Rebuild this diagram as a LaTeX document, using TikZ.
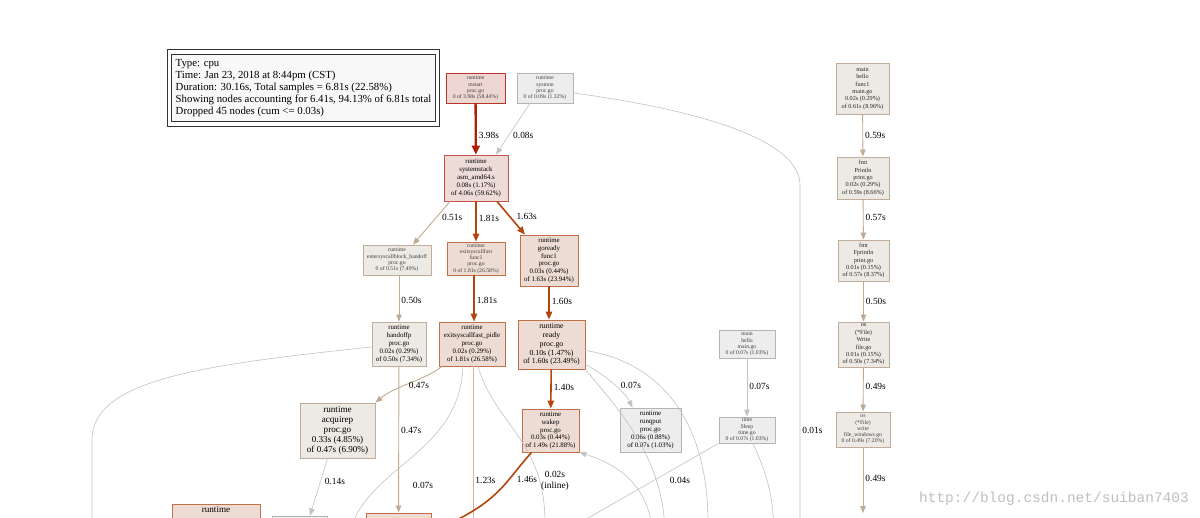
\documentclass[tikz,border=0pt]{standalone}
\usepackage{fontspec}
\setmainfont{Liberation Serif}
\newfontfamily\urlfont{Liberation Mono}
\usepackage{xcolor}
\usetikzlibrary{arrows.meta,positioning}
\definecolor{hotfill}{HTML}{EED6D3}
\definecolor{hotdraw}{HTML}{B8362A}
\definecolor{rosefill}{HTML}{EDDBD8}
\definecolor{rosedraw}{HTML}{C65248}
\definecolor{warmfill}{HTML}{EDDCD3}
\definecolor{warmdraw}{HTML}{C27048}
\definecolor{tanfill}{HTML}{EDE9E4}
\definecolor{tandraw}{HTML}{BFAD9A}
\definecolor{greyfill}{HTML}{EDEDED}
\definecolor{greydraw}{HTML}{B4B4B4}
\definecolor{legendfill}{HTML}{F8F8F8}
\definecolor{hotline}{HTML}{B21C00}
\definecolor{warmline}{HTML}{B2460E}
\definecolor{tanline}{HTML}{C2AA92}
\definecolor{paleline}{HTML}{DDB29C}
\definecolor{coolline}{HTML}{C2C2C2}

\begin{document}
\begin{tikzpicture}[x=1pt, y=-1pt,
 fn/.style={draw, rectangle, align=center, inner sep=1pt, line width=0.9pt},
 ftiny/.style={font=\fontsize{5.7}{6.2}\selectfont, text=black!75},
 fsmall/.style={font=\fontsize{6.2}{7.4}\selectfont, text=black!85},
 fmid/.style={font=\fontsize{6.9}{7.8}\selectfont},
 flarge/.style={font=\fontsize{7.8}{8.8}\selectfont},
 fhuge/.style={font=\fontsize{9.1}{10.2}\selectfont},
 hotbox/.style={fill=hotfill, draw=hotdraw},
 rosebox/.style={fill=rosefill, draw=rosedraw},
 warmbox/.style={fill=warmfill, draw=warmdraw},
 tanbox/.style={fill=tanfill, draw=tandraw},
 greybox/.style={fill=greyfill, draw=greydraw},
 lbl/.style={font=\fontsize{9.4}{10.4}\selectfont, inner sep=1pt, align=center},
 hotarr/.style={draw=hotline, line width=2.3pt, -{Triangle[length=9pt,width=8pt]}},
 warmarr/.style={draw=warmline, line width=1.6pt, -{Triangle[length=8pt,width=6.5pt]}},
 tanarr/.style={draw=tanline, line width=0.9pt, -{Triangle[length=7pt,width=5.5pt]}},
 palearr/.style={draw=paleline, line width=0.9pt, -{Triangle[length=7pt,width=5.5pt]}},
 coolarr/.style={draw=coolline, line width=0.6pt, -{Triangle[length=7pt,width=5.5pt]}}]
\useasboundingbox (0,0) rectangle (1200,517);
\fill[white] (0,0) rectangle (1200,517);
\clip (0,0) rectangle (1200,517);

% legend
\node[draw=black!80, line width=0.9pt, double=white, double distance=3.4pt, fill=legendfill,
 minimum width=268.5pt, minimum height=72pt, inner sep=0pt, align=left,
 font=\fontsize{10.8}{12}\selectfont] (legend) at (303.5,88)
 {Type: cpu\\Time: Jan 23, 2018 at 8:44pm (CST)\\Duration: 30.16s, Total samples = 6.81s (22.58\%)\\
  Showing nodes accounting for 6.41s, 94.13\% of 6.81s total\\Dropped 45 nodes (cum <= 0.03s)};

% runtime nodes
\node[fn, ftiny, hotbox, minimum width=59pt, minimum height=30pt] (mstart) at (475.5,88) {runtime\\mstart\\proc.go\\0 of 3.98s (58.44\%)};
\node[fn, ftiny, greybox, minimum width=56pt, minimum height=30pt] (sysmon) at (545,88) {runtime\\sysmon\\proc.go\\0 of 0.09s (1.32\%)};
\node[fn, fmid, rosebox, minimum width=64pt, minimum height=46pt] (stack) at (476,178) {runtime\\systemstack\\asm\_amd64.s\\0.08s (1.17\%)\\of 4.06s (59.62\%)};
\node[fn, ftiny, tanbox, minimum width=68pt, minimum height=30pt] (handoff) at (397,260) {runtime\\entersyscallblock\_handoff\\proc.go\\0 of 0.51s (7.49\%)};
\node[fn, ftiny, warmbox, minimum width=58pt, minimum height=33pt] (exitfn) at (476,258.5) {runtime\\exitsyscallfast\\func1\\proc.go\\0 of 1.81s (26.58\%)};
\node[fn, fmid, warmbox, minimum width=58pt, minimum height=51pt] (goready) at (549,260.5) {runtime\\goready\\func1\\proc.go\\0.03s (0.44\%)\\of 1.63s (23.94\%)};
\node[fn, fmid, tanbox, minimum width=54pt, minimum height=44pt] (handoffp) at (399,344) {runtime\\handoffp\\proc.go\\0.02s (0.29\%)\\of 0.50s (7.34\%)};
\node[fn, fmid, warmbox, minimum width=66pt, minimum height=44pt] (pidle) at (472,344) {runtime\\exitsyscallfast\_pidle\\proc.go\\0.02s (0.29\%)\\of 1.81s (26.58\%)};
\node[fn, flarge, warmbox, minimum width=67pt, minimum height=49pt] (ready) at (551.5,344.5) {runtime\\ready\\proc.go\\0.10s (1.47\%)\\of 1.60s (23.49\%)};
\node[fn, fhuge, tanbox, minimum width=75pt, minimum height=55pt] (acquirep) at (337.5,430.5) {runtime\\acquirep\\proc.go\\0.33s (4.85\%)\\of 0.47s (6.90\%)};
\node[fn, fmid, warmbox, minimum width=57pt, minimum height=43pt] (wakep) at (550.5,430.5) {runtime\\wakep\\proc.go\\0.03s (0.44\%)\\of 1.49s (21.88\%)};
\node[fn, fmid, greybox, minimum width=61pt, minimum height=44pt] (runqput) at (650.5,430) {runtime\\runqput\\proc.go\\0.06s (0.88\%)\\of 0.07s (1.03\%)};
\node[fn, ftiny, greybox, minimum width=56pt, minimum height=28pt] (mainhello) at (747,344) {main\\hello\\main.go\\0 of 0.07s (1.03\%)};
\node[fn, ftiny, greybox, minimum width=56pt, minimum height=26pt] (sleep) at (747,430) {time\\Sleep\\time.go\\0 of 0.07s (1.03\%)};

% main.hello.func1 chain
\node[fn, fsmall, tanbox, minimum width=53pt, minimum height=51pt] (func1) at (862.5,88.5) {main\\hello\\func1\\main.go\\0.02s (0.29\%)\\of 0.61s (8.96\%)};
\node[fn, fsmall, tanbox, minimum width=52pt, minimum height=42pt] (println) at (863,178) {fmt\\Println\\print.go\\0.02s (0.29\%)\\of 0.59s (8.66\%)};
\node[fn, fsmall, tanbox, minimum width=51pt, minimum height=41pt] (fprintln) at (863.5,260.5) {fmt\\Fprintln\\print.go\\0.01s (0.15\%)\\of 0.57s (8.37\%)};
\node[fn, fsmall, tanbox, minimum width=51pt, minimum height=45pt] (filewr) at (863.5,344.5) {os\\(*File)\\Write\\file.go\\0.01s (0.15\%)\\of 0.50s (7.34\%)};
\node[fn, ftiny, tanbox, minimum width=54pt, minimum height=35pt] (filewr2) at (863,429.5) {os\\(*File)\\write\\file\_windows.go\\0 of 0.49s (7.20\%)};

% nodes cut by the lower edge
\node[fn, fhuge, warmbox, minimum width=88pt, anchor=north, inner ysep=3pt, text depth=22pt] (rtbot) at (216,503.5) {runtime};
\node[fn, greybox, minimum width=55pt, minimum height=20pt, anchor=north] (greybot) at (300,515.5) {};
\node[fn, warmbox, minimum width=65pt, minimum height=20pt, anchor=north] (pinkbot) at (398.5,512.5) {};
\coordinate (sysmonend) at (800,530);
\coordinate (leftend) at (92,530);
\coordinate (pidleend) at (473,530);
\coordinate (pidleleft) at (350,530);
\coordinate (pidleright) at (545,530);
\coordinate (readyfar) at (708,530);
\coordinate (readynear) at (665,530);
\coordinate (wakepsrc) at (652,530);
\coordinate (wakepend) at (440,528);
\coordinate (sleepleft) at (567,530);
\coordinate (sleepright) at (774,530);
\coordinate (osend) at (863,513);

% edges
\draw[hotarr] (mstart) -- node[lbl, right=1pt, pos=.62] {3.98s} (stack);
\draw[coolarr] ([xshift=-15pt]sysmon.south) -- node[lbl, right=3pt, pos=.62] {0.08s} ([xshift=20pt]stack.north);
\draw[coolarr] ([yshift=-5pt]sysmon.east) .. controls (700,110) and (800,140) .. (800,185)
  -- node[lbl, right=1pt, pos=.71] {0.01s} (sysmonend);
\draw[tanarr] ([xshift=-26pt]stack.south) -- node[lbl, right=4pt, pos=.36] {0.51s} ([xshift=16pt]handoff.north);
\draw[warmarr] (stack) -- node[lbl, right=1pt, pos=.42] {1.81s} (exitfn);
\draw[warmarr] ([xshift=21pt]stack.south) -- node[lbl, right=5pt, pos=.46] {1.63s} ([xshift=-24pt]goready.north);
\draw[tanarr] ([xshift=2pt]handoff.south) -- node[lbl, right=1pt, pos=.55] {0.50s} (handoffp);
\draw[warmarr] ([xshift=-2pt]exitfn.south) -- node[lbl, right=1pt, pos=.55] {1.81s} ([xshift=2pt]pidle.north);
\draw[warmarr] (goready) -- node[lbl, right=1pt, pos=.45] {1.60s} ([xshift=-2.5pt]ready.north);
\draw[tanarr] ([xshift=-30pt]pidle.south) .. controls (425,380) and (395,386) .. (acquirep.north east)
  node[lbl] at (419,385) {0.47s};
\draw[tanarr] (handoffp) -- node[lbl, right=1pt, pos=.44] {0.47s} (pinkbot);
\draw[coolarr] ([yshift=-3pt]handoffp.west) .. controls (200,365) and (92,380) .. (92,440) -- (leftend);
\draw[coolarr] ([xshift=-10pt]acquirep.south) -- node[lbl, right=3pt, pos=.4] {0.14s} ([xshift=10pt]greybot.north);
\draw[palearr] ([xshift=1pt]pidle.south) -- node[lbl, right=1pt, pos=.7] {1.23s} (pidleend);
\draw[coolarr] ([xshift=-9pt]pidle.south) .. controls (460,450) and (375,465) .. (pidleleft)
  node[lbl] at (423,485) {0.07s};
\draw[coolarr] ([xshift=6pt]pidle.south) .. controls (495,425) and (545,440) .. (pidleright);
\draw[warmarr] (ready) -- node[lbl, right=1pt, pos=.45] {1.40s} (wakep);
\draw[coolarr] ([yshift=-6pt]ready.east) .. controls (660,362) and (708,420) .. (readyfar);
\draw[coolarr] ([yshift=-20pt]ready.east) .. controls (605,375) and (625,392) .. ([xshift=-18pt]runqput.north)
  node[lbl] at (631,385) {0.07s};
\draw[coolarr] (ready.south east) .. controls (610,400) and (660,450) .. (readynear);
\draw[coolarr] (wakepsrc) .. controls (648,480) and (610,462) .. (wakep.south east)
  node[lbl] at (555,481) {0.02s\\(inline)};
\draw[warmarr] ([xshift=-19pt]wakep.south) .. controls (505,482) and (500,500) .. (wakepend)
  node[lbl] at (527,479) {1.46s};
\draw[coolarr] (mainhello) -- node[lbl, right=1pt, pos=.48] {0.07s} (sleep);
\draw[coolarr] (sleep.south west) -- (sleepleft) node[lbl] at (680,480) {0.04s};
\draw[coolarr] ([xshift=6pt]sleep.south) .. controls (765,470) and (772,490) .. (sleepright);
\draw[tanarr] (func1) -- node[lbl, right=1pt, pos=.5] {0.59s} (println);
\draw[tanarr] (println) -- node[lbl, right=1pt, pos=.45] {0.57s} (fprintln);
\draw[tanarr] (fprintln) -- node[lbl, right=1pt, pos=.5] {0.50s} (filewr);
\draw[tanarr] (filewr) -- node[lbl, right=1pt, pos=.42] {0.49s} (filewr2);
\draw[tanarr] (filewr2) -- node[lbl, right=1pt, pos=.48] {0.49s} (osend);

% watermark
\node[font=\urlfont\fontsize{14.5}{16}\selectfont, text=black!25] (mark) at (1054,499) {http://blog.csdn.net/suiban7403};
\end{tikzpicture}
\end{document}
